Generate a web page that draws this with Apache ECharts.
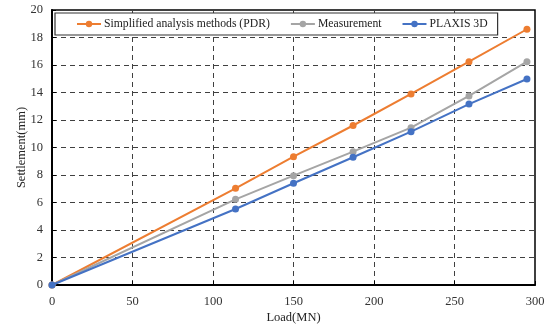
<!DOCTYPE html>
<html>
<head>
<meta charset="utf-8">
<script src="https://cdn.jsdelivr.net/npm/echarts@6/dist/echarts.min.js"></script>
<style>
  html, body { margin: 0; padding: 0; background: #fff; }
  #chart { width: 550px; height: 325px; }
</style>
</head>
<body>
<div id="chart"></div>
<script>
// Load (MN) at each loading step
const loads = [0, 114, 150, 187, 223, 259, 295];
// Settlement (mm) per method
const pdr = [0, 7.03, 9.33, 11.6, 13.9, 16.24, 18.6];
const measured = [0, 6.23, 7.95, 9.7, 11.44, 13.75, 16.24];
const plaxis = [0, 5.53, 7.4, 9.29, 11.15, 13.16, 14.98];
const seriesNames = ['Simplified analysis methods (PDR)', 'Measurement', 'PLAXIS 3D'];
const seriesColors = ['#ED7D31', '#A5A5A5', '#4472C4'];
const xTicks = [0, 50, 100, 150, 200, 250, 300];
const yTicks = [0, 2, 4, 6, 8, 10, 12, 14, 16, 18, 20];

const font = '"Liberation Serif", "Times New Roman", serif';
const pairs = (ys) => loads.map((x, i) => [x, ys[i]]);

const chart = echarts.init(document.getElementById('chart'), null, { renderer: 'canvas' });

const gridLine = { show: true, lineStyle: { color: '#404040', width: 1, type: [5, 4] } };

chart.setOption({
  animation: false,
  backgroundColor: '#fff',
  textStyle: { fontFamily: font },
  grid: {
    left: 52, right: 15, top: 10, bottom: 40,
    outerBoundsMode: 'none', containLabel: false,
    show: true, borderColor: '#000', borderWidth: 1.5, backgroundColor: 'transparent'
  },
  legend: {
    data: seriesNames,
    left: 55, top: 13,
    padding: [5, 10, 5, 21],
    itemGap: 20,
    itemWidth: 24, itemHeight: 8,
    borderColor: '#333', borderWidth: 1.2,
    backgroundColor: '#fff',
    textStyle: { fontFamily: font, fontSize: 11.7, color: '#222', padding: [0, 0, 0, -2] }
  },
  xAxis: {
    type: 'value',
    min: xTicks[0], max: xTicks[xTicks.length - 1], interval: 50,
    name: 'Load(MN)', nameLocation: 'middle', nameGap: 26, nameMoveOverlap: false,
    nameTextStyle: { fontFamily: font, fontSize: 12.5, color: '#222' },
    axisLine: { show: true, lineStyle: { color: '#000', width: 2 } },
    axisTick: { show: true, inside: true, length: 4, lineStyle: { color: '#000' } },
    axisLabel: { fontFamily: font, fontSize: 12.5, color: '#333', margin: 10 },
    splitLine: gridLine
  },
  yAxis: {
    type: 'value',
    min: yTicks[0], max: yTicks[yTicks.length - 1], interval: 2,
    name: 'Settlement(mm)', nameLocation: 'middle', nameGap: 24, nameMoveOverlap: false,
    nameTextStyle: { fontFamily: font, fontSize: 12.5, color: '#222' },
    axisLine: { show: true, lineStyle: { color: '#000', width: 2 } },
    axisTick: { show: true, inside: true, length: 4, lineStyle: { color: '#000' } },
    axisLabel: { fontFamily: font, fontSize: 12.5, color: '#333', margin: 9 },
    splitLine: gridLine
  },
  series: [pdr, measured, plaxis].map((ys, i) => ({
    name: seriesNames[i],
    type: 'line',
    data: pairs(ys),
    symbol: 'circle',
    symbolSize: 7,
    showAllSymbol: true,
    lineStyle: { color: seriesColors[i], width: 2 },
    itemStyle: { color: seriesColors[i] },
    z: 2 + i
  }))
});
</script>
</body>
</html>
